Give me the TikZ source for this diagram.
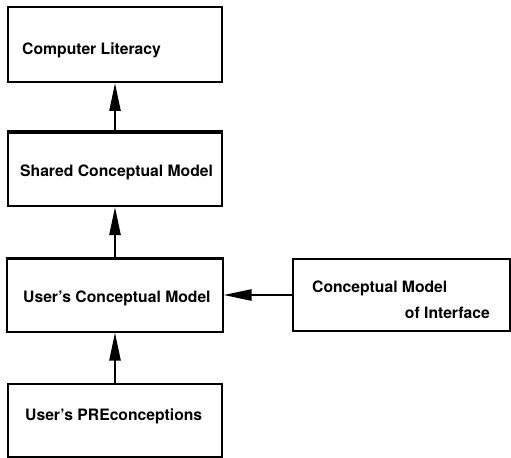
\documentclass[tikz,border=0pt]{standalone}
\usepackage{fontspec}
\setmainfont{TeX Gyre Heros}
\usetikzlibrary{arrows.meta}
\begin{document}
\begin{tikzpicture}[x=1bp,y=-1bp,
   box/.style={draw,line width=2bp,inner sep=0pt,minimum width=213bp,minimum height=73bp},
   lbl/.style={anchor=base west,inner sep=0pt,font=\fontsize{15.7bp}{18bp}\selectfont\bfseries},
   arr/.style={line width=2.4bp,-{Triangle[length=28bp,width=11bp]}}]
   \useasboundingbox (0,0) rectangle (511,458);
   % boxes
   \node[box,minimum height=75bp] (cl) at (115,44.5) {};
   \node[box] (sh) at (115,169.5) {};
   \node[box,minimum width=215bp] (ucm) at (115,295) {};
   \node[box] (pre) at (115,420.5) {};
   \node[box,minimum width=217bp,minimum height=72bp] (ci) at (401.5,295) {};
   \draw[line width=4bp] (sh.north west) -- (sh.north east);
   % texts
   \node[lbl] (cltext) at (22,55) {Computer Literacy};
   \node[lbl] (shtext) at (20,177) {Shared Conceptual Model};
   \node[lbl] (ucmtext) at (23,302) {User's Conceptual Model};
   \node[lbl] (pretext) at (25,420) {User's PREconceptions};
   \node[lbl] (citext) at (312,292) {Conceptual Model};
   \node[lbl,anchor=base east] (citext2) at (490,318) {of Interface};
   % arrows
   \draw[arr] (sh) -- (cl);
   \draw[arr] (ucm) -- (sh);
   \draw[arr] (pre) -- (ucm);
   \draw[arr] (ci) -- (ucm);
\end{tikzpicture}
\end{document}
